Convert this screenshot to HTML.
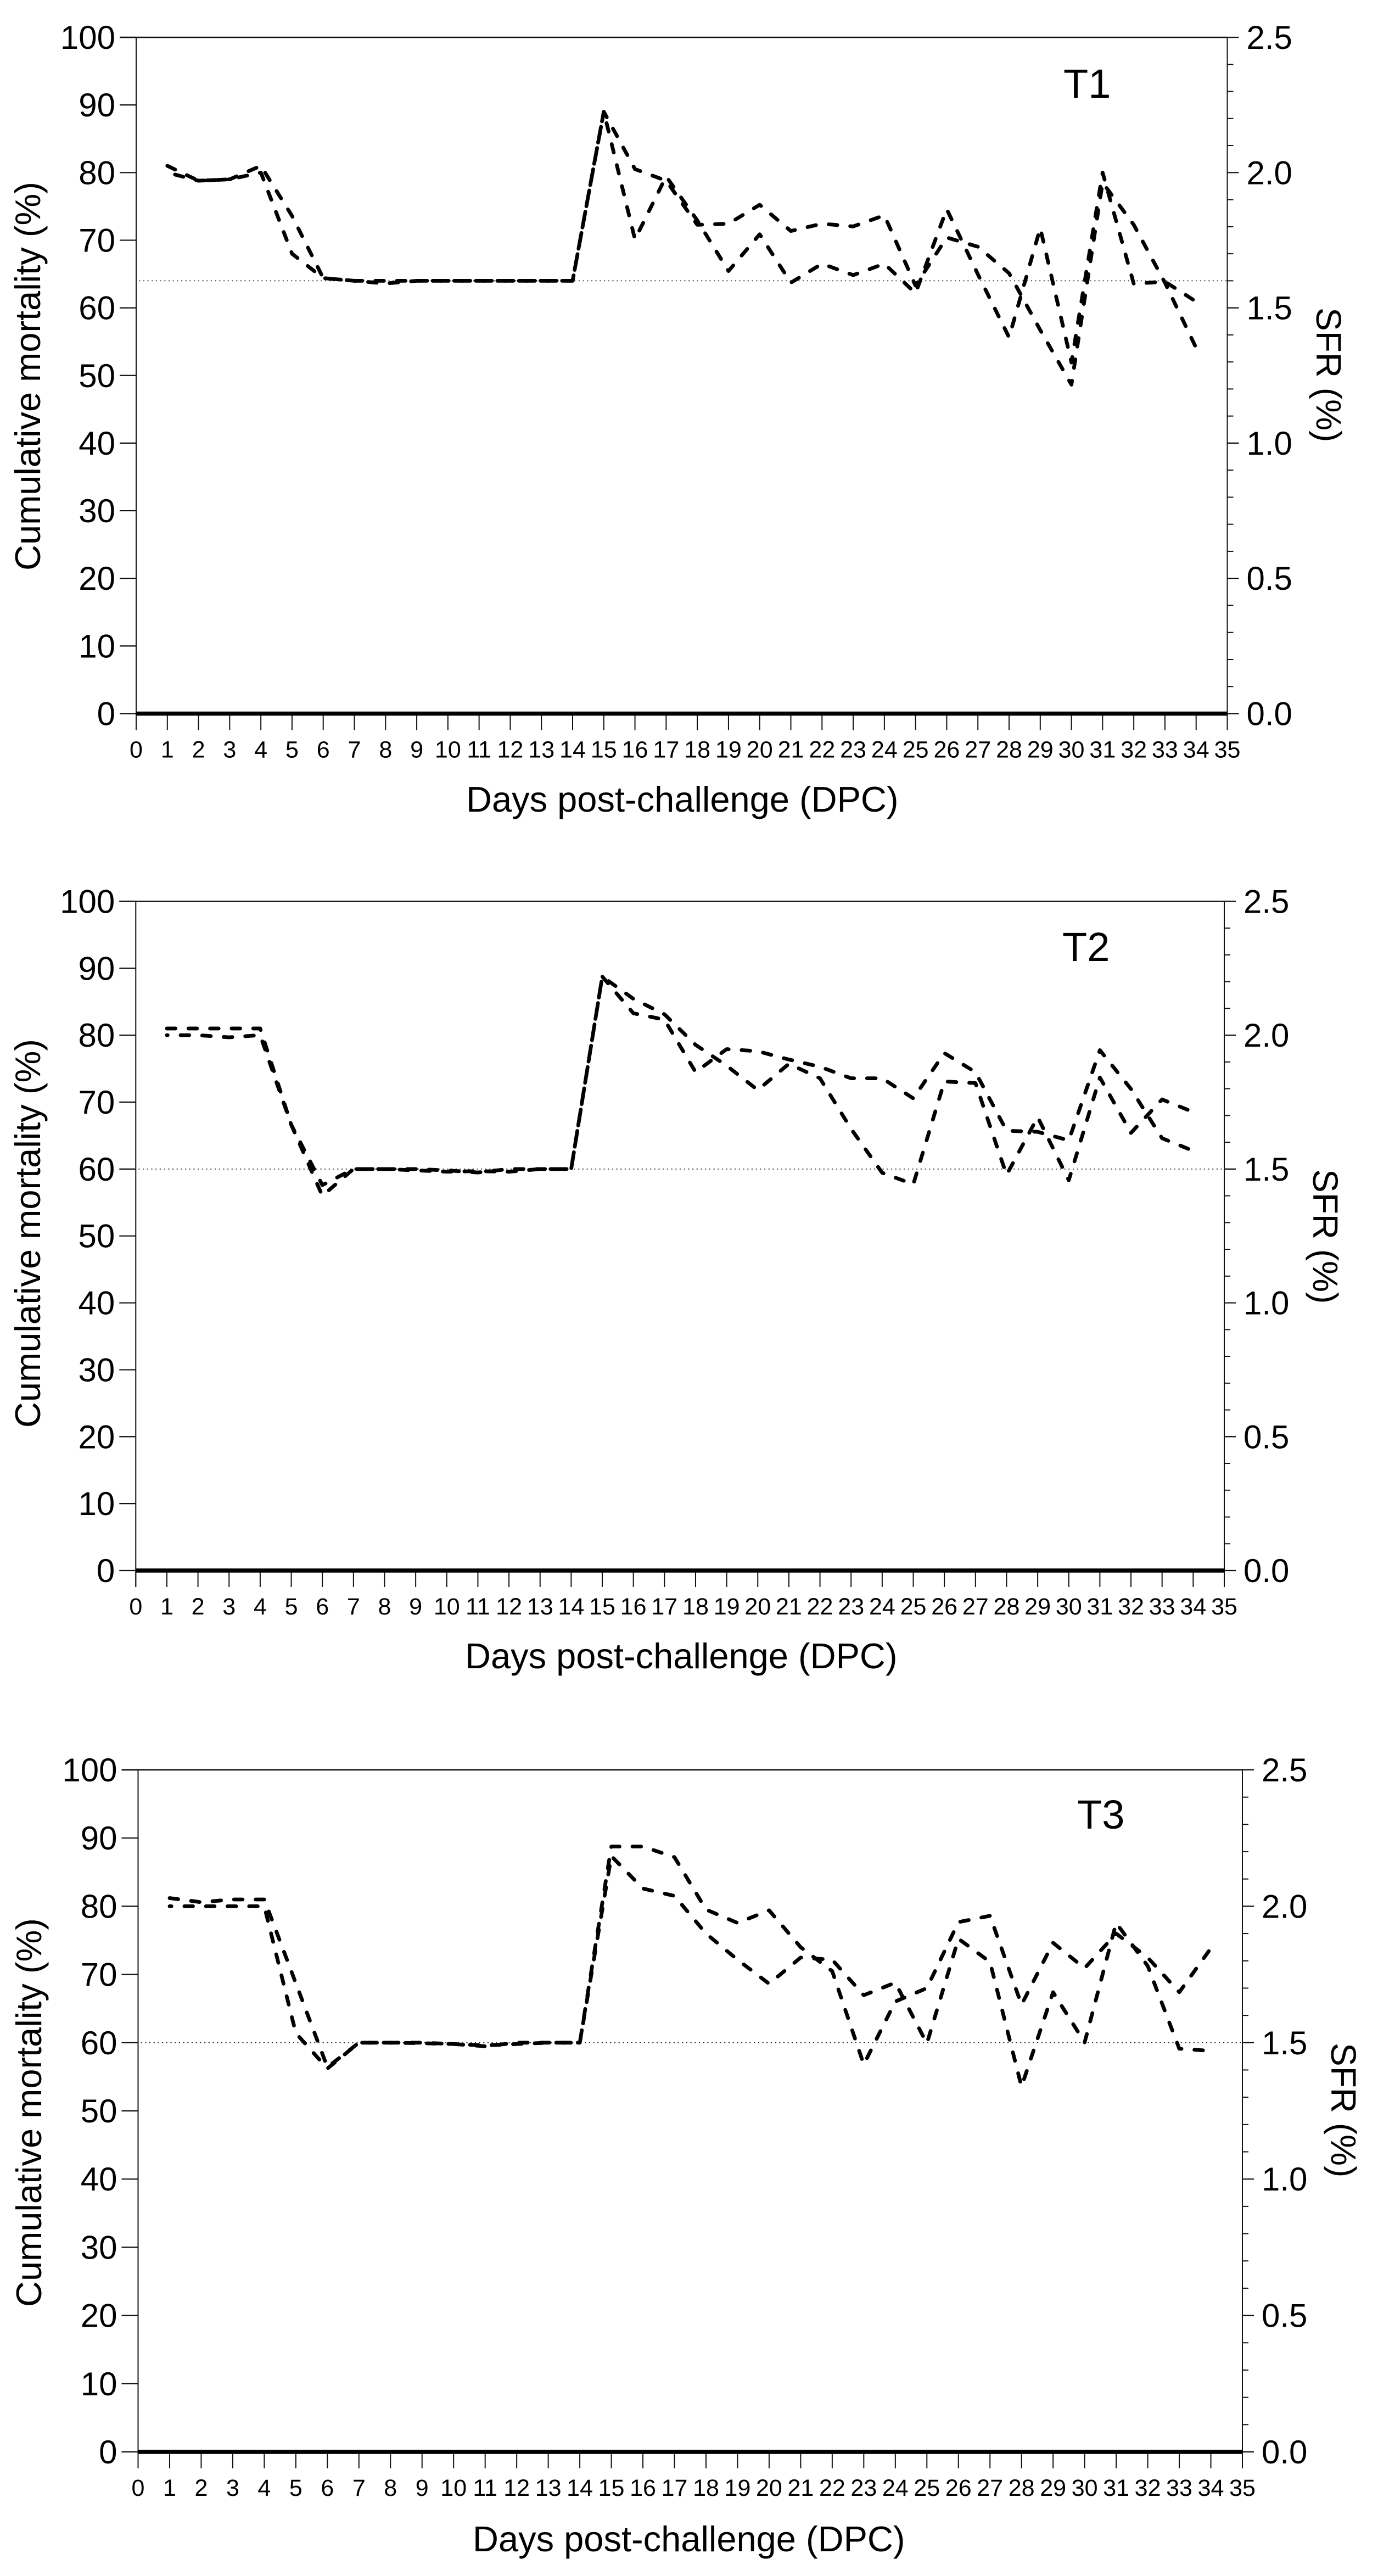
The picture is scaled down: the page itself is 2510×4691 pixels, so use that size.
<!DOCTYPE html>
<html lang="en">
<head>
<meta charset="utf-8">
<title>Cumulative mortality and SFR by days post-challenge</title>
<style>
  html, body { margin: 0; padding: 0; background: #ffffff; }
  svg { display: block; }
  text { font-family: "Liberation Sans", Arial, sans-serif; fill: #000; }
  .axis-title { font-size: 65px; }
  .right-title { font-size: 64px; }
  .x-title { font-size: 65px; }
  .panel-label { font-size: 74px; }
</style>
</head>
<body>
<svg id="figure" xmlns="http://www.w3.org/2000/svg" width="2510" height="4691" viewBox="0 0 2510 4691">
  <rect width="2510" height="4691" fill="#ffffff"/>

  <g id="panel-t1">
    <text class="axis-title" transform="translate(73,1039) rotate(-90)">Cumulative mortality (%)</text>
    <text class="right-title" transform="translate(2398,560) rotate(90)">SFR (%)</text>
    <text class="x-title" x="849" y="1478">Days post-challenge (DPC)</text>
    <text class="panel-label" x="1937" y="178">T1</text>
  </g>

  <g id="panel-t2">
    <text class="axis-title" transform="translate(73,2600) rotate(-90)">Cumulative mortality (%)</text>
    <text class="right-title" transform="translate(2392,2129) rotate(90)">SFR (%)</text>
    <text class="x-title" x="847" y="3038">Days post-challenge (DPC)</text>
    <text class="panel-label" x="1935" y="1750">T2</text>
  </g>

  <g id="panel-t3">
    <text class="axis-title" transform="translate(75,4201) rotate(-90)">Cumulative mortality (%)</text>
    <text class="right-title" transform="translate(2425,3720) rotate(90)">SFR (%)</text>
    <text class="x-title" x="861" y="4646">Days post-challenge (DPC)</text>
    <text class="panel-label" x="1962" y="3330">T3</text>
  </g>
</svg>

<script>
// Shared axis values
const xTickLabels = [0,1,2,3,4,5,6,7,8,9,10,11,12,13,14,15,16,17,18,19,20,21,22,23,24,25,26,27,28,29,30,31,32,33,34,35];
const mortalityTicks = [0,10,20,30,40,50,60,70,80,90,100];
const sfrMajorTicks = [0,0.5,1,1.5,2,2.5];
const sfrMinorTicks = [0.1,0.2,0.3,0.4,0.6,0.7,0.8,0.9,1.1,1.2,1.3,1.4,1.6,1.7,1.8,1.9,2.1,2.2,2.3,2.4];
const sfrDays = [1,2,3,4,5,6,7,8,9,10,11,12,13,14,15,16,17,18,19,20,21,22,23,24,25,26,27,28,29,30,31,32,33,34];

// T1
const t1SfrA = [2.025,1.97,1.975,2.025,1.84,1.61,1.6,1.6,1.6,1.6,1.6,1.6,1.6,1.6,2.225,2.013,1.97,1.807,1.811,1.881,1.784,1.811,1.801,1.842,1.582,1.76,1.726,1.628,1.418,1.216,1.963,1.807,1.593,1.352];
const t1SfrB = [2.0,1.97,1.975,2.0,1.7,1.61,1.6,1.59,1.6,1.6,1.6,1.6,1.6,1.6,2.225,1.753,1.986,1.823,1.636,1.772,1.593,1.663,1.621,1.663,1.554,1.865,1.624,1.391,1.795,1.298,2.0,1.589,1.597,1.523];
const t1Mortality = [0,0,0,0,0,0,0,0,0,0,0,0,0,0,0,0,0,0,0,0,0,0,0,0,0,0,0,0,0,0,0,0,0,0,0,0];
const t1Reference = 1.6;

// T2
const t2SfrA = [2.025,2.025,2.025,2.025,1.665,1.4,1.5,1.5,1.5,1.495,1.487,1.5,1.5,1.5,2.219,2.136,2.078,1.964,1.886,1.795,1.893,1.839,1.65,1.486,1.443,1.827,1.821,1.478,1.694,1.458,1.842,1.635,1.76,1.713];
const t2SfrB = [2.0,2.0,1.992,2.0,1.665,1.44,1.5,1.5,1.495,1.49,1.492,1.49,1.5,1.5,2.219,2.082,2.058,1.862,1.948,1.94,1.909,1.882,1.839,1.839,1.764,1.933,1.862,1.643,1.639,1.607,1.944,1.799,1.615,1.568];
const t2Mortality = [0,0,0,0,0,0,0,0,0,0,0,0,0,0,0,0,0,0,0,0,0,0,0,0,0,0,0,0,0,0,0,0,0,0,0,0];
const t2Reference = 1.5;

// T3
const t3SfrA = [2.03,2.015,2.025,2.025,1.718,1.41,1.5,1.5,1.5,1.495,1.487,1.5,1.5,1.5,2.219,2.219,2.18,1.988,1.939,1.985,1.85,1.762,1.42,1.651,1.7,1.942,1.965,1.639,1.866,1.773,1.9,1.812,1.685,1.846];
const t3SfrB = [2.0,2.0,2.0,2.0,1.535,1.405,1.5,1.5,1.498,1.495,1.49,1.495,1.5,1.5,2.184,2.065,2.038,1.9,1.804,1.716,1.812,1.804,1.674,1.72,1.497,1.881,1.796,1.339,1.685,1.501,1.939,1.781,1.478,1.47];
const t3Mortality = [0,0,0,0,0,0,0,0,0,0,0,0,0,0,0,0,0,0,0,0,0,0,0,0,0,0,0,0,0,0,0,0,0,0,0,0];
const t3Reference = 1.5;

const SVG_NS = 'http://www.w3.org/2000/svg';
const MORTALITY_MAX = 100;
const SFR_MAX = 2.5;
const X_MAX = 35;
const DASH_ON = 15.7;
const DASH_OFF = 23.6;

function make(parent, tag, attrs) {
  const el = document.createElementNS(SVG_NS, tag);
  for (const key in attrs) el.setAttribute(key, attrs[key]);
  parent.appendChild(el);
  return el;
}

function drawPanel(panel) {
  const root = document.getElementById(panel.id);
  const tag = panel.tag;
  const xScale = d => panel.left + (d / X_MAX) * (panel.right - panel.left);
  const yMortality = v => panel.bottom - (v / MORTALITY_MAX) * (panel.bottom - panel.top);
  const ySfr = v => panel.bottom - (v / SFR_MAX) * (panel.bottom - panel.top);
  const ink = '#111';

  // reference dotted line
  const ref = make(root, 'line', { x1: panel.left + 5, x2: panel.right, y1: ySfr(panel.reference), y2: ySfr(panel.reference), stroke: '#333', 'stroke-width': 1.8, 'stroke-dasharray': '2.2 5.5' });
  
  

  // axis frame
  const leftAxis = make(root, 'line', { x1: panel.left, x2: panel.left, y1: panel.top, y2: panel.bottom + 30, stroke: ink, 'stroke-width': 2 });
  
  
  const rightAxis = make(root, 'line', { x1: panel.right, x2: panel.right, y1: panel.top, y2: panel.bottom + 30, stroke: ink, 'stroke-width': 2 });
  
  

  // left ticks
  mortalityTicks.forEach(v => {
    const tick = make(root, 'line', { x1: panel.left - 30, x2: panel.left, y1: yMortality(v), y2: yMortality(v), stroke: ink, 'stroke-width': 2.2 });
    
    
    const label = make(root, 'text', { x: panel.left - 38, y: yMortality(v) + 21, 'text-anchor': 'end', 'font-size': 60 });
    
    
    label.textContent = String(v);
  });

  // right major ticks
  sfrMajorTicks.forEach(v => {
    const tick = make(root, 'line', { x1: panel.right, x2: panel.right + 21, y1: ySfr(v), y2: ySfr(v), stroke: ink, 'stroke-width': 2.2 });
    
    
    const label = make(root, 'text', { x: panel.right + 35, y: ySfr(v) + 21, 'font-size': 60 });
    
    
    label.textContent = v.toFixed(1);
  });

  // right minor ticks
  sfrMinorTicks.forEach(v => {
    const tick = make(root, 'line', { x1: panel.right, x2: panel.right + 11, y1: ySfr(v), y2: ySfr(v), stroke: ink, 'stroke-width': 2 });
    
    
  });

  // x ticks
  xTickLabels.forEach(d => {
    const tick = make(root, 'line', { x1: xScale(d), x2: xScale(d), y1: panel.bottom, y2: panel.bottom + 30, stroke: ink, 'stroke-width': 2 });
    
    
    const label = make(root, 'text', { x: xScale(d), y: panel.bottom + 80, 'text-anchor': 'middle', 'font-size': 43 });
    
    
    label.textContent = String(d);
  });

  // top axis line
  const topAxis = make(root, 'line', { x1: panel.left - 30, x2: panel.right, y1: panel.top, y2: panel.top, stroke: ink, 'stroke-width': 2.4 });
  
  

  // cumulative mortality series
  const mortalityPoints = panel.mortality.map((v, i) => xScale(xTickLabels[i]) + ',' + yMortality(v)).join(' ');
  const mortalityLine = make(root, 'polyline', { points: mortalityPoints, fill: 'none', stroke: '#000', 'stroke-width': 7.5 });
  
  

  // length of a series up to day 14, used to set the relative dash phase of the two lines
  const lengthToRamp = series => {
    let total = 0;
    for (let i = 1; i < 14; i++) {
      total += Math.hypot(xScale(sfrDays[i]) - xScale(sfrDays[i - 1]), ySfr(series[i]) - ySfr(series[i - 1]));
    }
    return total;
  };
  const lengthA = lengthToRamp(panel.sfr[0]);

  // SFR series
  panel.sfr.forEach((series, s) => {
    const points = series.map((v, i) => xScale(sfrDays[i]) + ',' + ySfr(v)).join(' ');
    const offset = s === 0 ? 0 : lengthA - lengthToRamp(series) + panel.dashPhase;
    const line = make(root, 'polyline', { points: points, fill: 'none', stroke: '#000', 'stroke-width': 6.8, 'stroke-linecap': 'round', 'stroke-linejoin': 'round', 'stroke-dasharray': DASH_ON + ' ' + DASH_OFF, 'stroke-dashoffset': offset });
    
    
  });
}

drawPanel({ id: 'panel-t1', tag: 't1', left: 248, right: 2235.5, top: 68, bottom: 1299.5, dashPhase: 13.5, reference: t1Reference, mortality: t1Mortality, sfr: [t1SfrA, t1SfrB] });
drawPanel({ id: 'panel-t2', tag: 't2', left: 247.3, right: 2230, top: 1641.4, bottom: 2860, dashPhase: 13.5, reference: t2Reference, mortality: t2Mortality, sfr: [t2SfrA, t2SfrB] });
drawPanel({ id: 'panel-t3', tag: 't3', left: 251.5, right: 2263, top: 3223, bottom: 4465, dashPhase: 11, reference: t3Reference, mortality: t3Mortality, sfr: [t3SfrA, t3SfrB] });
</script>
</body>
</html>
